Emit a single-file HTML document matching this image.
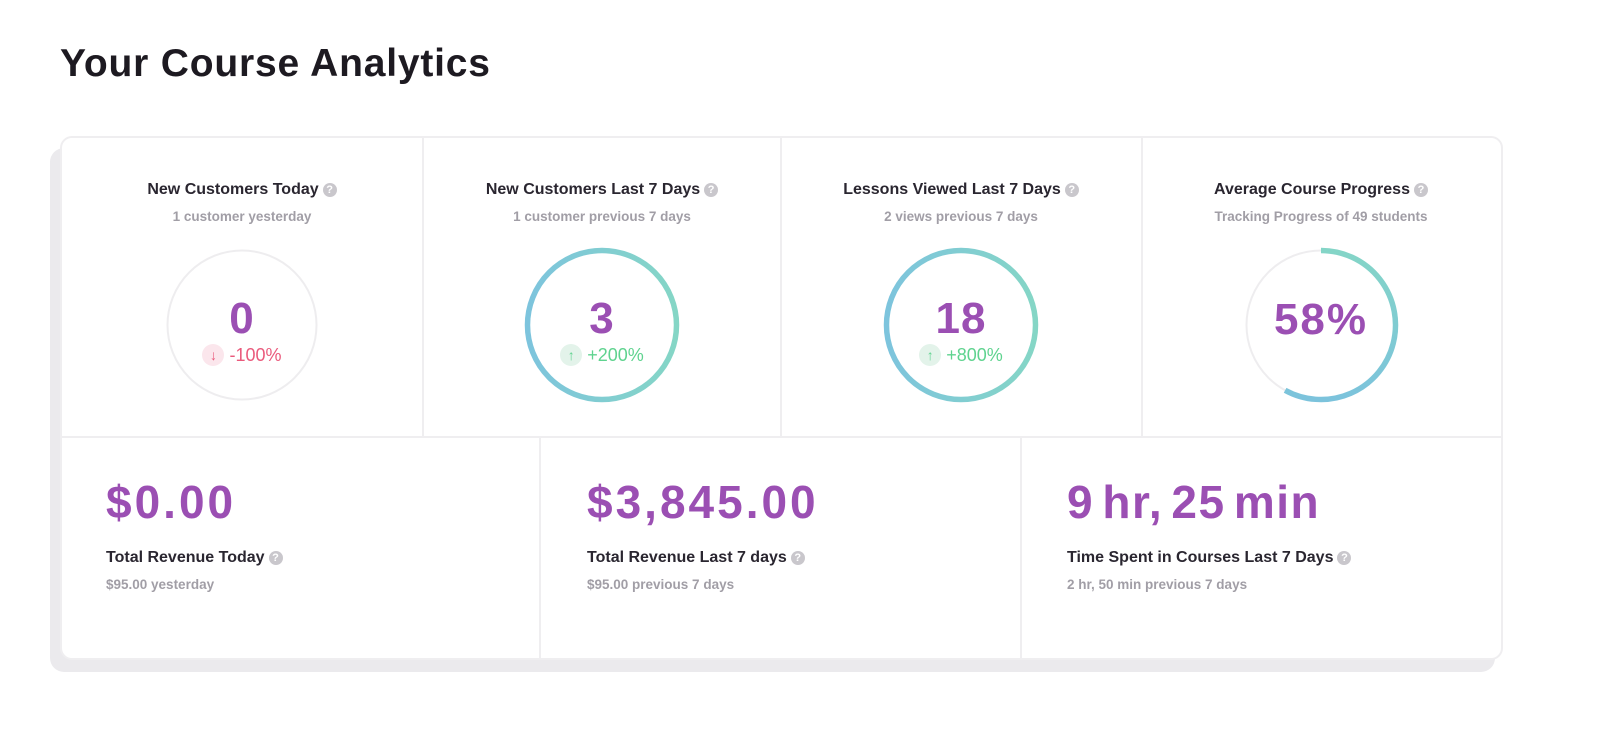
<!DOCTYPE html>
<html><head><meta charset="utf-8">
<style>
body{margin:0;width:1600px;height:751px;background:#fff;font-family:"Liberation Sans",sans-serif;position:relative;overflow:hidden}
.title{position:absolute;left:60px;top:42px;font-size:39px;font-weight:bold;color:#1d1a21;letter-spacing:0.8px}
.shadow{position:absolute;left:50px;top:148px;width:1445px;height:524px;background:#ebeaed;border-radius:14px}
.card{position:absolute;left:60px;top:136px;width:1443px;height:524px;background:#fff;border:2px solid #efeef0;border-radius:12px;box-sizing:border-box}
.cell{position:absolute;box-sizing:border-box}
.lbl{font-size:16px;font-weight:bold;color:#2a2630;white-space:nowrap}
.sub{font-size:13.5px;font-weight:bold;color:#a19ea6;white-space:nowrap}
.q{display:inline-block;width:14px;height:14px;border-radius:50%;background:#c9c7cc;color:#fff;font-size:11px;text-align:center;line-height:14px;vertical-align:1px;margin-left:4px}
.big{font-size:46px;font-weight:bold;color:#9b4fb3;letter-spacing:3px;white-space:nowrap}
.vline{position:absolute;width:2px;background:#efeef0}
.hline{position:absolute;height:2px;background:#efeef0}
</style></head><body>
<div class="title">Your Course Analytics</div>
<div class="shadow"></div>
<div class="card"></div>
<div class="hline" style="left:61px;top:436px;width:1442px"></div>
<div class="vline" style="left:422px;top:138px;height:298px"></div>
<div class="vline" style="left:780px;top:138px;height:298px"></div>
<div class="vline" style="left:1141px;top:138px;height:298px"></div>
<div class="vline" style="left:539px;top:438px;height:221px"></div>
<div class="vline" style="left:1020px;top:438px;height:221px"></div>

<svg id="top" width="1600" height="751" style="position:absolute;left:0;top:0">
<defs>
<linearGradient id="g" x1="0" y1="0" x2="1" y2="0"><stop offset="0" stop-color="#7dc4dd"/><stop offset="1" stop-color="#85d6c6"/></linearGradient>
<linearGradient id="g2" x1="0" y1="0" x2="0" y2="1"><stop offset="0" stop-color="#84d5c7"/><stop offset="1" stop-color="#7cc3dc"/></linearGradient>
</defs>
</svg>

<script>
const titles=["New Customers Today","New Customers Last 7 Days","Lessons Viewed Last 7 Days","Average Course Progress"];
const subs=["1 customer yesterday","1 customer previous 7 days","2 views previous 7 days","Tracking Progress of 49 students"];
const values=["0","3","18","58%"];
const changes=["-100%","+200%","+800%",""];
const progress=[0,100,100,58];
const centers=[242,602,961,1321];
const svg=document.getElementById('top');
const NS="http://www.w3.org/2000/svg";
const R=74.5;
for(let i=0;i<4;i++){
  const cx=centers[i],cy=325;
  const h=document.createElement('div');
  h.className='lbl';h.style.cssText=`position:absolute;left:${cx-200}px;width:400px;text-align:center;top:181px`;
  h.innerHTML=titles[i]+'<span class="q">?</span>';
  
  
  document.body.appendChild(h);
  const s=document.createElement('div');
  s.className='sub';s.style.cssText=`position:absolute;left:${cx-200}px;width:400px;text-align:center;top:209px`;
  s.textContent=subs[i];
  
  
  document.body.appendChild(s);
  const bg=document.createElementNS(NS,'circle');
  bg.setAttribute('cx',cx);bg.setAttribute('cy',cy);bg.setAttribute('r',R);
  bg.setAttribute('fill','none');bg.setAttribute('stroke','#eeedef');bg.setAttribute('stroke-width','2');
  
  
  svg.appendChild(bg);
  const p=progress[i];
  if(p>0){
    const arc=document.createElementNS(NS,'path');
    let d;
    if(p>=100){d=`M${cx-R},${cy}a${R},${R} 0 1,0 ${2*R},0a${R},${R} 0 1,0 ${-2*R},0`;arc.setAttribute('stroke','url(#g)');}
    else{const a=p/100*2*Math.PI;const ex=cx+R*Math.sin(a),ey=cy-R*Math.cos(a);
      d=`M${cx},${cy-R}A${R},${R} 0 ${p>50?1:0},1 ${ex},${ey}`;arc.setAttribute('stroke','url(#g2)');}
    arc.setAttribute('d',d);arc.setAttribute('fill','none');arc.setAttribute('stroke-width','5.5');
    
    
    svg.appendChild(arc);
  }
  const v=document.createElement('div');
  v.className='big';
  const hasChange=changes[i]!=="";
  v.style.cssText=`position:absolute;left:${cx-100}px;width:200px;text-align:center;top:${hasChange?294:295}px;font-size:${hasChange?44:44}px;letter-spacing:${hasChange?1:2}px`;
  v.textContent=values[i];
  
  
  document.body.appendChild(v);
  if(hasChange){
    const up=changes[i][0]==='+';
    const c=document.createElement('div');
    c.style.cssText=`position:absolute;left:${cx-100}px;width:200px;text-align:center;top:344px;font-size:18px;color:${up?'#5fd38f':'#ea5a7c'};white-space:nowrap`;
    c.innerHTML=`<span style="display:inline-block;width:22px;height:22px;border-radius:50%;background:${up?'#e3f3ea':'#fbe6ec'};font-size:14px;line-height:22px;vertical-align:1px;margin-right:5px">${up?'↑':'↓'}</span>${changes[i]}`;
    
    
    document.body.appendChild(c);
  }
}
const bValues=["$0.00","$3,845.00","9 hr, 25 min"];
const bTitles=["Total Revenue Today","Total Revenue Last 7 days","Time Spent in Courses Last 7 Days"];
const bSubs=["$95.00 yesterday","$95.00 previous 7 days","2 hr, 50 min previous 7 days"];
const bLeft=[106,587,1067];
for(let i=0;i<3;i++){
  const v=document.createElement('div');v.className='big';
  v.style.cssText=`position:absolute;left:${bLeft[i]}px;top:475px;`+(i===2?'letter-spacing:1.5px;word-spacing:-6px':'');
  v.textContent=bValues[i];
  
  
  document.body.appendChild(v);
  const t=document.createElement('div');t.className='lbl';
  t.style.cssText=`position:absolute;left:${bLeft[i]}px;top:549px`;t.innerHTML=bTitles[i]+'<span class="q">?</span>';
  
  
  document.body.appendChild(t);
  const s=document.createElement('div');s.className='sub';
  s.style.cssText=`position:absolute;left:${bLeft[i]}px;top:577px`;s.textContent=bSubs[i];
  
  
  document.body.appendChild(s);
}
</script>
</body></html>
